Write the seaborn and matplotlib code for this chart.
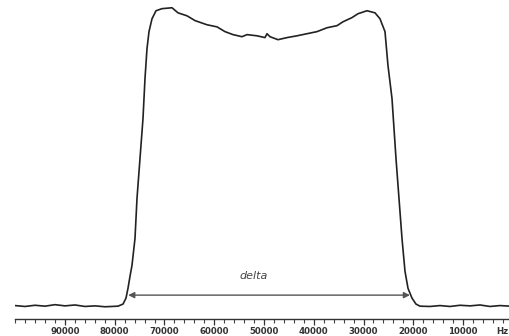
import pandas as pd
import matplotlib
matplotlib.use("Agg")
import matplotlib.pyplot as plt
import matplotlib.transforms as mtransforms
import seaborn as sns
from matplotlib.ticker import MultipleLocator

# frequency (Hz) and relative intensity
freq = [100050, 98040, 96030, 94020, 92010, 90000, 87990, 85980, 83970, 81960, 79347,
        78342, 77739, 77337, 76935, 76533, 75930, 75528, 74925, 74322, 73920,
        73518, 73116, 72513, 71709, 70503, 68493, 67287, 65478, 63870, 61458,
        59448, 57840, 56232, 54423, 53418, 51408, 49800, 49398, 48795, 47187,
        45378, 43368, 41358, 39348, 37338, 35328, 34122, 32313, 31107, 29298,
        27690, 26685, 25680, 25077, 24273, 23469, 22866, 22263, 21660, 21057,
        20253, 19449, 18645, 16635, 14625, 12615, 10605, 8595, 6585, 4575, 2565, 555]
intensity = [0.2, -0.1, 0.3, 0.0, 0.5, 0.1, 0.4, -0.1, 0.1, -0.2, 0.0,
             0.7, 2.7, 6.0, 10.0, 13.7, 22.7, 36.1, 49.5, 62.9, 76.3,
             86.3, 92.0, 96.3, 99.0, 99.7, 100.0, 98.3, 97.3, 95.7, 94.3,
             93.6, 92.0, 91.0, 90.3, 91.0, 90.6, 90.0, 91.3, 90.3, 89.3,
             90.0, 90.6, 91.3, 92.0, 93.3, 94.0, 95.3, 96.7, 98.0, 99.0,
             98.3, 96.3, 92.0, 80.6, 69.6, 49.5, 36.1, 22.7, 11.7, 6.0,
             2.7, 0.7, 0.0, -0.1, 0.2, -0.1, 0.3, 0.1, 0.4, -0.1, 0.2, 0.0]

tick_pos = [90000, 80000, 70000, 60000, 50000, 40000, 30000, 20000, 10000, 0]
tick_lab = ["90000", "80000", "70000", "60000", "50000", "40000", "30000", "20000", "10000", "Hz"]

delta_start = 77300
delta_end = 20660

sns.set_style("white")
plt.rcParams['font.family'] = ['DejaVu Sans']

df = pd.DataFrame({"freq": freq, "intensity": intensity})

fig = plt.figure(figsize=(5.1, 3.36), dpi=100)
ax = fig.add_axes([15 / 510, 17 / 336, 498 / 510, 319 / 336])

sns.lineplot(data=df, x="freq", y="intensity", ax=ax, color="#222222",
             linewidth=1.2, sort=False, estimator=None)

ax.set_xlim(100050, -50)
ax.set_ylim(-4.3, 102.6)

for s in ["left", "top", "right"]:
    ax.spines[s].set_visible(False)
ax.spines["bottom"].set_color("#333333")
ax.spines["bottom"].set_linewidth(1.0)

ax.set_xticks(tick_pos)
ax.set_xticklabels(tick_lab)
ax.xaxis.set_minor_locator(MultipleLocator(2000))
ax.tick_params(axis="x", which="major", direction="out", length=4.5, width=0.9,
               color="#333333", labelsize=6.2, labelcolor="#333333", pad=1.2,
               bottom=True)
ax.tick_params(axis="x", which="minor", direction="out", length=2.8, width=0.8,
               color="#444444", bottom=True)
for lab in ax.get_xticklabels():
    lab.set_fontweight("bold")

# unit label at the right end: keep it inside the figure
hz_lab = ax.get_xticklabels()[-1]
hz_lab.set_horizontalalignment("right")
hz_lab.set_transform(hz_lab.get_transform() +
                     mtransforms.ScaledTranslation(-3 / 72, 0, fig.dpi_scale_trans))

ax.set_yticks([])
ax.set_xlabel("")
ax.set_ylabel("")

ax.annotate("", xy=(delta_end, 3.7), xytext=(delta_start, 3.7),
            arrowprops=dict(arrowstyle="<|-|>", color="#555555", lw=1.0,
                            mutation_scale=9, shrinkA=0, shrinkB=0))
ax.text((delta_start + delta_end) / 2 + 3000, 10, "delta", style="italic",
        ha="center", va="center", fontsize=8, color="#444444")

fig.savefig("out.png", dpi=100)
